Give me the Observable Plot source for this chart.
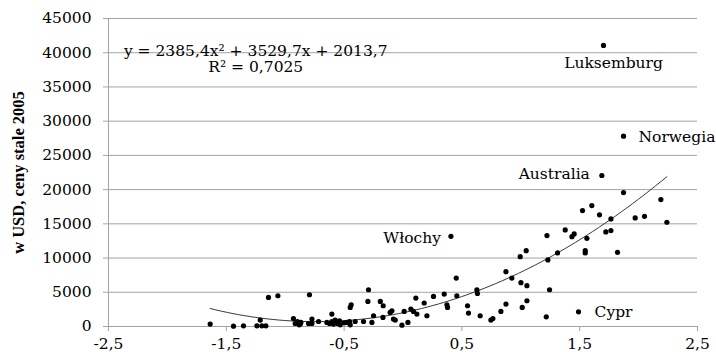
<!DOCTYPE html>
<html>
<head>
<meta charset="utf-8">
<script src="https://cdn.jsdelivr.net/npm/d3@7"></script>
<script src="https://cdn.jsdelivr.net/npm/@observablehq/plot@0.6"></script>
<style>
  html, body { margin: 0; padding: 0; background: #fff; }
  svg { overflow: visible; }
</style>
</head>
<body>
<div id="chart"></div>
<script>
// ---- data ----
const xValues = [
  -1.637, -1.439, -1.354, -1.240, -1.198, -1.164, -1.212, -1.142, -1.062, -0.794,
  -0.930, -0.915, -0.896, -0.881, -0.867, -0.873, -0.802, -0.773, -0.773, -0.717,
  -0.646, -0.624, -0.604, -0.604, -0.590, -0.576, -0.556, -0.539, -0.533, -0.499,
  -0.476, -0.448, -0.454, -0.448, -0.440, -0.406, -0.335, -0.293, -0.298, -0.264,
  -0.250, -0.193, -0.168, -0.170, -0.109, -0.094, -0.081, -0.066, -0.009, 0.010,
  0.042, 0.067, 0.109, 0.118, 0.089, 0.180, 0.203, 0.259, 0.350, 0.373,
  0.378, 0.452, 0.457, 0.407, 0.548, 0.556, 0.627, 0.632, 0.655, 0.746,
  0.763, 0.831, 0.874, 0.874, 0.924, 0.995, 1.046, 1.001, 1.052, 1.012,
  1.052, 1.216, 1.230, 1.244, 1.222, 1.312, 1.377, 1.434, 1.453, 1.490,
  1.524, 1.547, 1.547, 1.561, 1.603, 1.668, 1.688, 1.722, 1.765, 1.765,
  1.821, 1.872, 1.971, 2.050, 2.189, 2.240, 1.702, 1.872
];
const yValues = [
  350, 50, 100, 100, 100, 100, 940, 4250, 4490, 4640,
  1170, 440, 730, 250, 590, 350, 440, 1080, 440, 730,
  590, 440, 1810, 730, 350, 940, 440, 830, 250, 540,
  590, 250, 730, 2780, 3180, 730, 730, 5370, 3660, 590,
  1570, 3660, 3030, 1320, 2050, 2300, 1080, 940, 200, 2200,
  590, 2550, 4160, 1810, 2200, 3430, 1570, 4390, 4740, 3180,
  2780, 7080, 4490, 13175, 3030, 1960, 5370, 4830, 1570, 940,
  1170, 2200, 3280, 8010, 7080, 10200, 11080, 6400, 5960, 2780,
  3760, 1420, 9720, 5370, 13280, 10750, 14110, 13130, 13530, 2150,
  16940, 11080, 10750, 12880, 17670, 16310, 22060, 13820, 14010, 15720,
  10830, 19570, 15870, 16100, 18550, 15230, 41060, 27800
];
const labelNames = ["Luksemburg", "Norwegia", "Australia", "Włochy", "Cypr"];
const labelX = [1.702, 1.872, 1.688, 0.407, 1.490];
const labelY = [41060, 27800, 22060, 13175, 2150];
const trendCoef = [2385.4, 3529.7, 2013.7]; // y = a x^2 + b x + c
const equationLines = ["y = 2385,4x² + 3529,7x + 2013,7", "R² = 0,7025"];
const xTicks = [-2.5, -1.5, -0.5, 0.5, 1.5, 2.5];
const yTicks = [0, 5000, 10000, 15000, 20000, 25000, 30000, 35000, 40000, 45000];
const yAxisTitle = "w USD, ceny stale 2005";

// ---- build ----
const points = xValues.map((x, i) => ({x, y: yValues[i]}));
const xmin = d3.min(xValues), xmax = d3.max(xValues);
const trend = d3.range(0, 81).map(i => {
  const x = xmin + (xmax - xmin) * i / 80;
  return {x, y: trendCoef[0] * x * x + trendCoef[1] * x + trendCoef[2]};
});
const labels = labelNames.map((name, i) => ({name, x: labelX[i], y: labelY[i]}));
const GRID = "#a3a3a3";
const FONT = "DejaVu Serif";

const labelStyle = [
  {textAnchor: "middle", dx: 10, dy: 18},
  {textAnchor: "start", dx: 15, dy: 1},
  {textAnchor: "end", dx: -12, dy: -1},
  {textAnchor: "end", dx: -10, dy: 2},
  {textAnchor: "start", dx: 16, dy: 0}
];

const chart = Plot.plot({
  width: 716,
  height: 352,
  marginLeft: 108,
  marginRight: 19,
  marginTop: 18,
  marginBottom: 26,
  style: {fontFamily: FONT, fontSize: "15.5px", color: "black", background: "white"},
  x: {domain: [-2.5, 2.5]},
  y: {domain: [0, 45000]},
  marks: [
    Plot.gridY(yTicks, {stroke: GRID, strokeOpacity: 1, strokeWidth: 1}),
    Plot.axisY(yTicks, {tickSize: 5, tickPadding: 12, stroke: GRID, strokeOpacity: 1, fill: "black",
      tickFormat: d => String(d), label: null, fontSize: 15.5}),
    Plot.axisX(xTicks, {tickSize: 5, tickPadding: 6, stroke: GRID, strokeOpacity: 1, fill: "black",
      tickFormat: d => d.toFixed(1).replace(".", ","), label: null, fontSize: 15.5}),
    Plot.ruleX([-2.5], {stroke: GRID, strokeWidth: 1}),
    Plot.ruleY([0], {stroke: GRID, strokeWidth: 1}),
    Plot.line(trend, {x: "x", y: "y", stroke: "#222", strokeWidth: 0.9, curve: "linear"}),
    Plot.dot(points, {x: "x", y: "y", r: 2.6, fill: "black", stroke: "none"}),
    ...labels.map((d, i) => Plot.text([d], {x: "x", y: "y", text: "name", fill: "black",
      fontSize: 15.5, textAnchor: labelStyle[i].textAnchor, dx: labelStyle[i].dx, dy: labelStyle[i].dy})),
    Plot.text([equationLines[0]], {x: () => -1.25, y: () => 40290, text: d => d, fontSize: 15.5, fill: "black", textAnchor: "middle"}),
    Plot.text([equationLines[1]], {x: () => -1.25, y: () => 37870, text: d => d, fontSize: 15.5, fill: "black", textAnchor: "middle"}),
    Plot.text([yAxisTitle], {frameAnchor: "left", text: d => d, rotate: -90, dx: -90,
      fontFamily: "Liberation Serif", fontWeight: "bold", fontSize: 16.5, fill: "black", textAnchor: "middle"})
  ]
});
document.getElementById("chart").appendChild(chart);
</script>
</body>
</html>
